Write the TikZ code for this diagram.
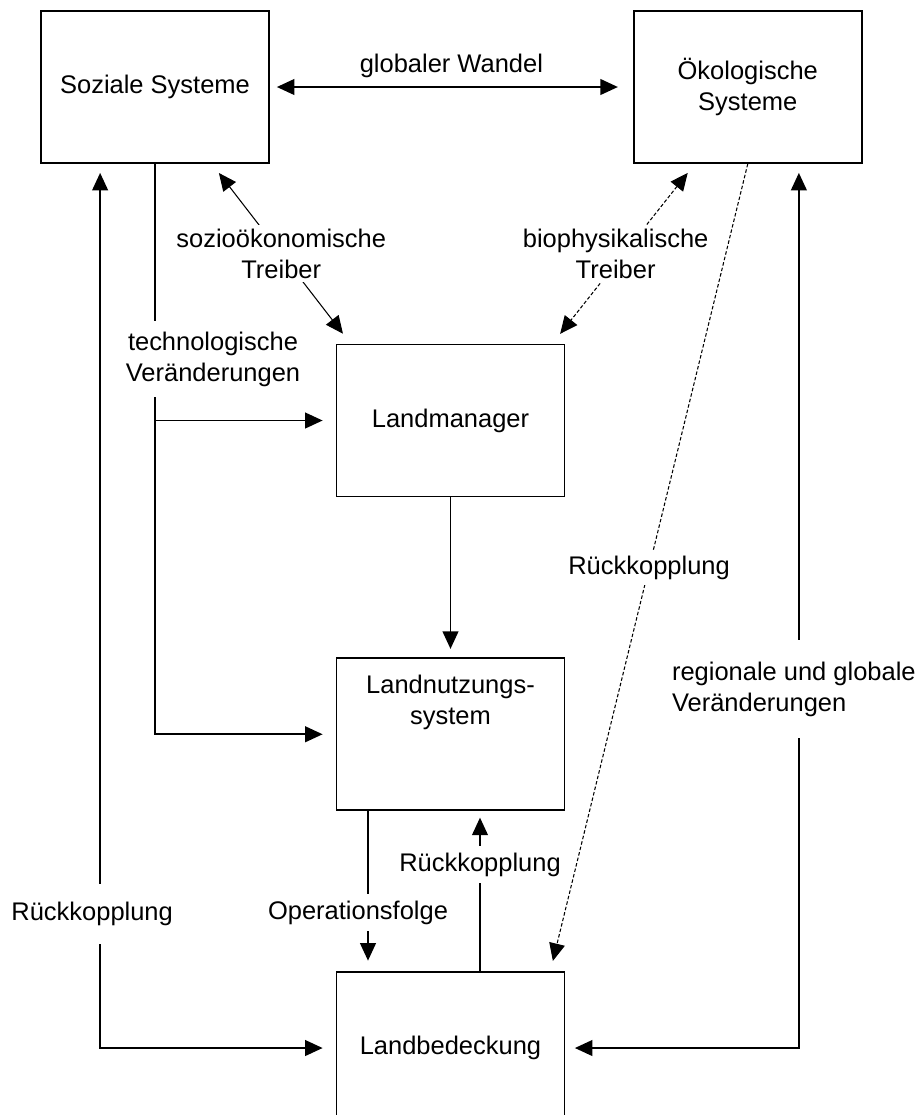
\documentclass[tikz,border=0pt]{standalone}
\usepackage{fontspec}
\setmainfont{Liberation Sans}
\usepackage{tikz}
\usetikzlibrary{
  arrows.meta,
  positioning,
  calc
}
\newcommand{\sysfont}{\fontsize{14.5}{17.6}\selectfont}
\tikzset{
  sysbox/.style={
    draw, line width=1pt,
    minimum width=4.56cm, minimum height=3.04cm,
    align=center, font=\sysfont, inner sep=0pt
  },
  lbl/.style={
    fill=white, align=center, font=\sysfont, inner sep=2pt
  },
  conn/.style={line width=1pt},
  thinconn/.style={line width=0.6pt},
  dotconn/.style={line width=0.6pt, dash pattern=on 2pt off 1.2pt},
}

\begin{document}
\begin{tikzpicture}[>={Triangle[length=10pt,width=9pt]}]

\useasboundingbox[fill=white] (0,0) rectangle (18.34,-22.3);

% ── Systems ───────────────────────────────────────────────────────────────────
\node[sysbox] (soz) at (3.10,-1.74) {Soziale Systeme};
\node[sysbox, right=7.26cm of soz] (oek) {Ökologische\\Systeme};

% ── Land chain ────────────────────────────────────────────────────────────────
\node[sysbox] (lm) at (9.01,-8.41) {Landmanager};
\node[sysbox, below=3.2cm of lm,
      label={[lbl, fill=none, inner sep=0pt, yshift=0.64cm]center:{Landnutzungs-\\system}}]
  (lnu) {};
\node[sysbox, below=3.2cm of lnu] (lbd) {Landbedeckung};

% ── globaler Wandel ───────────────────────────────────────────────────────────
\draw[conn, <->, shorten <=0.14cm, shorten >=0.3cm]
  (soz) -- node[lbl, fill=none, above=3pt]{globaler Wandel} (oek);

% ── Treiber ───────────────────────────────────────────────────────────────────
\draw[thinconn, <->, shorten <=0.23cm, shorten >=0.25cm]
  ($(soz.south east)+(-1.16,0)$) --
  node[lbl]{sozioökonomische\\Treiber}
  ($(lm.north west)+(0.3,0)$);

\draw[dotconn, <->, shorten <=0.23cm, shorten >=0.25cm]
  ($(oek.south west)+(1.24,0)$) --
  node[lbl, xshift=-0.16cm]{biophysikalische\\Treiber}
  ($(lm.north east)+(-0.26,0)$);

% ── technologische Veraenderungen ─────────────────────────────────────────────
\draw[conn, ->, shorten >=0.26cm]
  (soz.south) |-
  node[lbl, pos=0.171, xshift=1.16cm, inner ysep=0.22cm]{technologische\\Veränderungen}
  (lnu.west);
\draw[conn, ->, shorten >=0.26cm] (soz.south |- lm.west) -- (lm.west);

% ── Landmanager -> Landnutzung ────────────────────────────────────────────────
\draw[conn, ->, shorten >=0.17cm] (lm) -- (lnu);

% ── Landnutzung <-> Landbedeckung ─────────────────────────────────────────────
\draw[conn, ->, shorten >=0.21cm]
  ($(lnu.south)+(-1.65,0)$) --
  node[lbl, pos=0.634, xshift=-0.2cm, inner ysep=4pt]{Operationsfolge}
  ($(lbd.north)+(-1.65,0)$);
\draw[conn, ->, shorten >=0.13cm]
  ($(lbd.north)+(0.59,0)$) --
  node[lbl, pos=0.666, inner ysep=4pt]{Rückkopplung}
  ($(lnu.south)+(0.59,0)$);

% ── Rueckkopplung (dotted) ────────────────────────────────────────────────────
\draw[dotconn, ->, shorten >=0.21cm]
  (oek.south) -- node[lbl, inner ysep=3pt]{Rückkopplung}
  ($(lbd.north east)+(-0.3,0)$);

% ── outer loops ───────────────────────────────────────────────────────────────
\draw[conn, <->, shorten <=0.18cm, shorten >=0.26cm]
  ($(soz.south west)+(1.2,0)$) |-
  node[lbl, pos=0.424, xshift=-0.16cm, inner ysep=0.36cm]{Rückkopplung}
  (lbd.west);

\draw[conn, <->, shorten <=0.18cm, shorten >=0.19cm]
  ($(oek.south west)+(3.32,0)$) |-
  node[lbl, pos=0.297, xshift=-0.1cm, align=left, inner xsep=0pt, inner ysep=0.43cm]
    {regionale und globale\\Veränderungen}
  (lbd.east);

\end{tikzpicture}
\end{document}
